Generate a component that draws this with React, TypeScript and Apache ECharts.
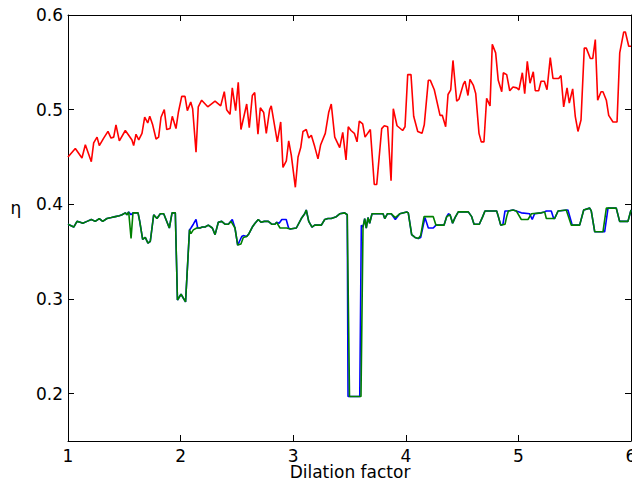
import React, { useEffect, useRef } from "react";
import * as echarts from "echarts";

const xTicks = [1, 2, 3, 4, 5, 6];
const yTicks = [0.2, 0.3, 0.4, 0.5, 0.6];
const xTitle = "Dilation factor";
const yTitle = "η";

const redPoints: [number, number][] = [
  [1.0, 0.45], [1.065, 0.459], [1.124, 0.449], [1.154, 0.463], [1.207, 0.445], [1.228, 0.465], [1.258, 0.471], [1.278, 0.462],
  [1.317, 0.47], [1.355, 0.477], [1.382, 0.47], [1.406, 0.471], [1.426, 0.484], [1.456, 0.467], [1.509, 0.478], [1.539, 0.473],
  [1.568, 0.468], [1.583, 0.462], [1.604, 0.474], [1.628, 0.468], [1.657, 0.475], [1.681, 0.492], [1.708, 0.486], [1.726, 0.493],
  [1.752, 0.484], [1.782, 0.469], [1.805, 0.471], [1.826, 0.492], [1.855, 0.5], [1.877, 0.479], [1.906, 0.48], [1.926, 0.493],
  [1.959, 0.48], [1.98, 0.497], [2.01, 0.514], [2.039, 0.514], [2.06, 0.499], [2.09, 0.508], [2.107, 0.501], [2.137, 0.455],
  [2.157, 0.503], [2.187, 0.51], [2.241, 0.503], [2.306, 0.509], [2.356, 0.504], [2.388, 0.519], [2.409, 0.5], [2.439, 0.495],
  [2.459, 0.523], [2.489, 0.499], [2.512, 0.529], [2.536, 0.479], [2.587, 0.506], [2.61, 0.481], [2.637, 0.515], [2.658, 0.518],
  [2.687, 0.474], [2.708, 0.502], [2.738, 0.497], [2.761, 0.475], [2.791, 0.5], [2.805, 0.504], [2.859, 0.466], [2.889, 0.487],
  [2.909, 0.439], [2.939, 0.446], [2.96, 0.467], [2.983, 0.452], [3.019, 0.418], [3.043, 0.45], [3.067, 0.46], [3.087, 0.477],
  [3.116, 0.479], [3.138, 0.47], [3.161, 0.473], [3.191, 0.461], [3.22, 0.448], [3.244, 0.463], [3.285, 0.475], [3.315, 0.497],
  [3.338, 0.506], [3.369, 0.471], [3.413, 0.46], [3.44, 0.476], [3.469, 0.447], [3.489, 0.482], [3.513, 0.478], [3.543, 0.475],
  [3.567, 0.466], [3.587, 0.488], [3.617, 0.485], [3.638, 0.471], [3.685, 0.479], [3.72, 0.421], [3.742, 0.421], [3.786, 0.48],
  [3.809, 0.483], [3.839, 0.482], [3.869, 0.425], [3.889, 0.501], [3.922, 0.483], [3.972, 0.478], [3.993, 0.482], [4.017, 0.537],
  [4.046, 0.537], [4.07, 0.493], [4.106, 0.477], [4.144, 0.475], [4.164, 0.484], [4.2, 0.531], [4.218, 0.531], [4.253, 0.521],
  [4.304, 0.494], [4.324, 0.494], [4.354, 0.482], [4.375, 0.516], [4.399, 0.521], [4.419, 0.552], [4.452, 0.509], [4.472, 0.511],
  [4.511, 0.527], [4.526, 0.53], [4.552, 0.515], [4.57, 0.532], [4.599, 0.526], [4.621, 0.517], [4.65, 0.475], [4.67, 0.466],
  [4.694, 0.466], [4.718, 0.512], [4.748, 0.504], [4.768, 0.569], [4.798, 0.56], [4.821, 0.531], [4.852, 0.519], [4.866, 0.539],
  [4.896, 0.537], [4.923, 0.52], [4.952, 0.524], [4.985, 0.523], [5.005, 0.521], [5.035, 0.539], [5.056, 0.517], [5.079, 0.551],
  [5.103, 0.528], [5.132, 0.54], [5.15, 0.52], [5.18, 0.52], [5.201, 0.53], [5.23, 0.53], [5.254, 0.521], [5.283, 0.555],
  [5.307, 0.533], [5.358, 0.533], [5.378, 0.536], [5.402, 0.503], [5.432, 0.523], [5.452, 0.507], [5.482, 0.522], [5.505, 0.493],
  [5.529, 0.477], [5.556, 0.489], [5.585, 0.565], [5.603, 0.565], [5.639, 0.554], [5.66, 0.554], [5.683, 0.574], [5.704, 0.51],
  [5.734, 0.519], [5.751, 0.519], [5.781, 0.51], [5.802, 0.494], [5.84, 0.487], [5.876, 0.487], [5.9, 0.56], [5.935, 0.582],
  [5.95, 0.582], [5.98, 0.567], [6.0, 0.567],
];

const greenPoints: [number, number][] = [
  [1.0, 0.379], [1.051, 0.376], [1.08, 0.382], [1.109, 0.381], [1.131, 0.38], [1.169, 0.382], [1.207, 0.384], [1.242, 0.382],
  [1.278, 0.385], [1.308, 0.382], [1.346, 0.385], [1.385, 0.386], [1.42, 0.387], [1.456, 0.388], [1.48, 0.389], [1.509, 0.391],
  [1.524, 0.389], [1.539, 0.392], [1.56, 0.364], [1.577, 0.391], [1.622, 0.391], [1.637, 0.382], [1.663, 0.363], [1.686, 0.365],
  [1.71, 0.359], [1.731, 0.361], [1.761, 0.389], [1.79, 0.385], [1.82, 0.39], [1.85, 0.39], [1.9, 0.375], [1.924, 0.391],
  [1.953, 0.391], [1.972, 0.299], [2.004, 0.305], [2.044, 0.297], [2.079, 0.373], [2.092, 0.369], [2.113, 0.373], [2.143, 0.375],
  [2.172, 0.375], [2.193, 0.376], [2.217, 0.376], [2.246, 0.378], [2.282, 0.375], [2.306, 0.368], [2.335, 0.381], [2.365, 0.382],
  [2.394, 0.379], [2.424, 0.379], [2.448, 0.382], [2.483, 0.375], [2.507, 0.357], [2.536, 0.358], [2.557, 0.365], [2.587, 0.366],
  [2.607, 0.369], [2.637, 0.376], [2.661, 0.38], [2.69, 0.384], [2.714, 0.381], [2.743, 0.382], [2.779, 0.382], [2.809, 0.379],
  [2.838, 0.379], [2.853, 0.381], [2.883, 0.375], [2.912, 0.375], [2.942, 0.375], [2.972, 0.374], [3.028, 0.375], [3.072, 0.385],
  [3.102, 0.39], [3.116, 0.394], [3.138, 0.382], [3.167, 0.376], [3.191, 0.378], [3.25, 0.378], [3.28, 0.384], [3.309, 0.385],
  [3.338, 0.385], [3.383, 0.387], [3.413, 0.39], [3.457, 0.391], [3.48, 0.389], [3.5, 0.197], [3.602, 0.197], [3.62, 0.376],
  [3.635, 0.385], [3.649, 0.375], [3.664, 0.386], [3.679, 0.38], [3.7, 0.39], [3.729, 0.39], [3.798, 0.39], [3.813, 0.385],
  [3.836, 0.39], [3.871, 0.39], [3.907, 0.386], [3.946, 0.39], [4.008, 0.392], [4.022, 0.391], [4.052, 0.368], [4.082, 0.365],
  [4.111, 0.364], [4.132, 0.367], [4.162, 0.387], [4.191, 0.387], [4.244, 0.387], [4.268, 0.378], [4.304, 0.378], [4.339, 0.378],
  [4.363, 0.387], [4.393, 0.389], [4.416, 0.38], [4.437, 0.386], [4.466, 0.392], [4.555, 0.392], [4.585, 0.387], [4.606, 0.379],
  [4.653, 0.379], [4.683, 0.387], [4.703, 0.393], [4.807, 0.393], [4.822, 0.387], [4.843, 0.378], [4.881, 0.379], [4.896, 0.387],
  [4.911, 0.393], [4.952, 0.394], [4.981, 0.393], [5.026, 0.384], [5.085, 0.384], [5.115, 0.39], [5.203, 0.391], [5.233, 0.392],
  [5.248, 0.385], [5.322, 0.385], [5.352, 0.393], [5.425, 0.394], [5.47, 0.378], [5.544, 0.378], [5.58, 0.394], [5.633, 0.396],
  [5.647, 0.393], [5.678, 0.371], [5.751, 0.371], [5.781, 0.396], [5.869, 0.396], [5.899, 0.382], [5.973, 0.382], [6.0, 0.394],
];

const bluePoints: [number, number][] = [
  [1.0, 0.379], [1.051, 0.376], [1.08, 0.382], [1.109, 0.381], [1.131, 0.38], [1.169, 0.382], [1.207, 0.384], [1.242, 0.382],
  [1.278, 0.385], [1.308, 0.382], [1.346, 0.385], [1.385, 0.386], [1.42, 0.387], [1.456, 0.388], [1.48, 0.389], [1.509, 0.391],
  [1.524, 0.389], [1.539, 0.392], [1.56, 0.389], [1.577, 0.391], [1.622, 0.391], [1.637, 0.382], [1.663, 0.363], [1.686, 0.365],
  [1.71, 0.359], [1.731, 0.361], [1.761, 0.389], [1.79, 0.385], [1.82, 0.39], [1.85, 0.39], [1.9, 0.375], [1.924, 0.391],
  [1.953, 0.391], [1.972, 0.299], [2.004, 0.305], [2.044, 0.297], [2.079, 0.373], [2.092, 0.375], [2.113, 0.379], [2.137, 0.384],
  [2.152, 0.375], [2.172, 0.375], [2.193, 0.376], [2.217, 0.376], [2.246, 0.378], [2.282, 0.375], [2.306, 0.368], [2.335, 0.381],
  [2.365, 0.382], [2.394, 0.379], [2.424, 0.379], [2.459, 0.384], [2.483, 0.375], [2.507, 0.357], [2.543, 0.366], [2.557, 0.367],
  [2.587, 0.366], [2.607, 0.369], [2.637, 0.376], [2.661, 0.38], [2.69, 0.384], [2.714, 0.381], [2.743, 0.382], [2.779, 0.382],
  [2.809, 0.379], [2.838, 0.379], [2.853, 0.381], [2.875, 0.38], [2.899, 0.384], [2.938, 0.384], [2.959, 0.375], [2.972, 0.374],
  [3.028, 0.375], [3.072, 0.385], [3.102, 0.39], [3.116, 0.394], [3.138, 0.382], [3.167, 0.376], [3.191, 0.378], [3.25, 0.378],
  [3.28, 0.384], [3.309, 0.385], [3.338, 0.385], [3.383, 0.387], [3.413, 0.39], [3.457, 0.391], [3.48, 0.389], [3.487, 0.197],
  [3.591, 0.197], [3.605, 0.378], [3.62, 0.376], [3.635, 0.385], [3.649, 0.375], [3.664, 0.386], [3.679, 0.38], [3.7, 0.39],
  [3.729, 0.39], [3.798, 0.39], [3.813, 0.385], [3.836, 0.39], [3.871, 0.39], [3.907, 0.384], [3.946, 0.39], [4.008, 0.392],
  [4.022, 0.391], [4.052, 0.368], [4.082, 0.365], [4.111, 0.364], [4.132, 0.365], [4.17, 0.386], [4.2, 0.375], [4.244, 0.375],
  [4.268, 0.378], [4.304, 0.378], [4.339, 0.378], [4.363, 0.387], [4.378, 0.39], [4.393, 0.389], [4.416, 0.38], [4.437, 0.386],
  [4.466, 0.392], [4.555, 0.392], [4.585, 0.387], [4.606, 0.379], [4.653, 0.379], [4.683, 0.387], [4.703, 0.393], [4.807, 0.393],
  [4.822, 0.387], [4.843, 0.378], [4.863, 0.379], [4.881, 0.393], [4.911, 0.393], [4.952, 0.394], [4.981, 0.393], [5.026, 0.391],
  [5.1, 0.39], [5.123, 0.384], [5.144, 0.39], [5.203, 0.391], [5.233, 0.392], [5.248, 0.393], [5.292, 0.393], [5.313, 0.385],
  [5.322, 0.385], [5.352, 0.393], [5.44, 0.394], [5.478, 0.378], [5.544, 0.378], [5.58, 0.394], [5.633, 0.396], [5.647, 0.393],
  [5.678, 0.371], [5.766, 0.371], [5.796, 0.396], [5.869, 0.396], [5.899, 0.382], [5.973, 0.382], [6.0, 0.394],
];

const FONT = "DejaVu Sans";

export default function App() {
  const ref = useRef<HTMLDivElement>(null);
  useEffect(() => {
    document.body.style.margin = "0";
    const chart = echarts.init(ref.current!, null, { renderer: "svg" });
    const axisLine = { show: true, onZero: false, lineStyle: { color: "#000", width: 1 } };
    const tick = { show: true, inside: true, length: 6, lineStyle: { color: "#000", width: 1 } };
    const label = { color: "#000", fontSize: 17, fontFamily: FONT };
    chart.setOption({
      animation: false,
      backgroundColor: "#fff",
      grid: { left: 68, right: 1, top: 15, bottom: 44, containLabel: false, outerBoundsMode: "none" },
      xAxis: [
        {
          type: "value", min: 1, max: 6, interval: 1, position: "bottom",
          axisLine, axisTick: { ...tick, customValues: xTicks },
          axisLabel: { ...label, margin: 6, customValues: xTicks },
          splitLine: { show: false },
        },
        {
          type: "value", min: 1, max: 6, interval: 1, position: "top",
          axisLine, axisTick: { ...tick, customValues: xTicks },
          axisLabel: { show: false }, splitLine: { show: false },
        },
      ],
      yAxis: [
        {
          type: "value", min: 0.15, max: 0.6, position: "left",
          axisLine, axisTick: { ...tick, customValues: yTicks },
          axisLabel: { ...label, margin: 5, customValues: yTicks, formatter: (v: number) => v.toFixed(1) },
          splitLine: { show: false },
        },
        {
          type: "value", min: 0.15, max: 0.6, position: "right",
          axisLine, axisTick: { ...tick, customValues: yTicks },
          axisLabel: { show: false }, splitLine: { show: false },
        },
      ],
      graphic: [
        { type: "text", x: 16, y: 208, style: { text: yTitle, fontSize: 17, fontFamily: FONT, fill: "#000", align: "center", verticalAlign: "middle" } },
        { type: "text", x: 350, y: 472, style: { text: xTitle, fontSize: 17, fontFamily: FONT, fill: "#000", align: "center", verticalAlign: "middle" } },
      ],
      series: [
        { type: "line", name: "red", data: redPoints, showSymbol: false, symbol: "none", lineStyle: { color: "#ff0000", width: 1.6 }, xAxisIndex: 0, yAxisIndex: 0 },
        { type: "line", name: "blue", data: bluePoints, showSymbol: false, symbol: "none", lineStyle: { color: "#0000ff", width: 1.6 }, xAxisIndex: 0, yAxisIndex: 0 },
        { type: "line", name: "green", data: greenPoints, showSymbol: false, symbol: "none", lineStyle: { color: "#008000", width: 1.6 }, xAxisIndex: 0, yAxisIndex: 0 },
      ],
    });
    return () => chart.dispose();
  }, []);
  return <div ref={ref} style={{ width: 632, height: 485 }} />;
}
